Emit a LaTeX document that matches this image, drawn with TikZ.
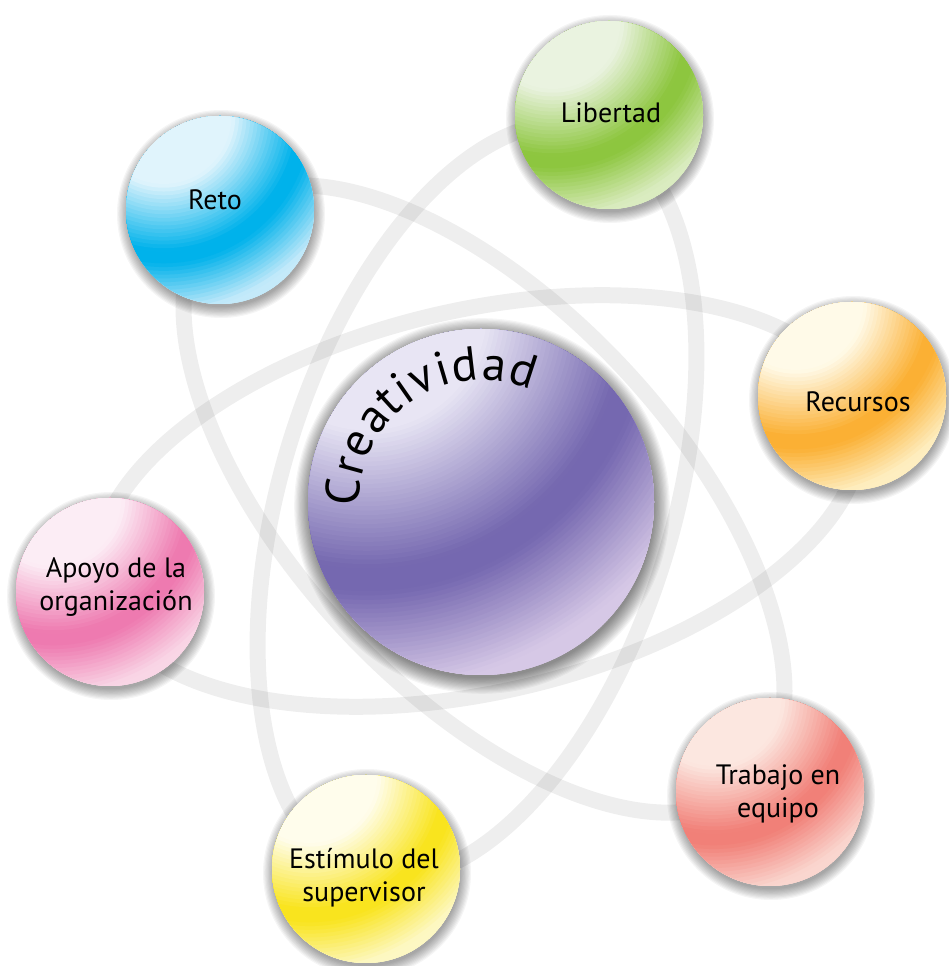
\documentclass[tikz,border=0pt]{standalone}
\usepackage{fontspec}
\setmainfont{PT Sans}
\usetikzlibrary{calc,decorations.text}

% ball palette: L = highlight, M = saturated band, R = rim
\definecolor{retoL}{RGB}{224,244,252}
\definecolor{retoM}{RGB}{0,178,235}
\definecolor{retoR}{RGB}{196,234,250}
\definecolor{libL}{RGB}{234,243,224}
\definecolor{libM}{RGB}{141,198,63}
\definecolor{libR}{RGB}{218,236,192}
\definecolor{recL}{RGB}{255,250,232}
\definecolor{recM}{RGB}{251,176,52}
\definecolor{recR}{RGB}{254,238,192}
\definecolor{apoL}{RGB}{252,237,245}
\definecolor{apoM}{RGB}{238,122,176}
\definecolor{apoR}{RGB}{249,214,230}
\definecolor{traL}{RGB}{252,231,224}
\definecolor{traM}{RGB}{241,128,120}
\definecolor{traR}{RGB}{250,214,207}
\definecolor{estL}{RGB}{255,253,236}
\definecolor{estM}{RGB}{249,228,30}
\definecolor{estR}{RGB}{253,248,195}
\definecolor{creL}{RGB}{232,229,244}
\definecolor{creM}{RGB}{117,104,176}
\definecolor{creR}{RGB}{214,200,230}

% glossy ball built from concentric rings around an off-centre point.
% #1 palette prefix, #2 x, #3 y, #4 radius, #5 number of rings
% geometry (in ball radii): \gox \goy centre of the rings,
% \gdL end of highlight, \gdMa/\gdMb saturated band, \gdR rim tint, \gmax outermost ring
\newcommand\paintball[5]{%
  \begin{scope}
    \clip (#2,#3) circle[radius=#4];
    \fill[#1R] (#2,#3) circle[radius=#4];
    \foreach \i in {#5,...,0}{%
      \pgfmathsetmacro\dd{\gmax*\i/#5}%
      \pgfmathsetmacro\pa{100*min(1,max(0,(\dd-\gdL)/(\gdMa-\gdL)))}%
      \pgfmathsetmacro\qa{100-100*min(1,max(0,(\dd-\gdMb)/(\gdR-\gdMb)))}%
      \colorlet{ringc}{#1M!\pa!#1L!\qa!#1R}%
      \fill[ringc] (#2+\gox*#4,#3+\goy*#4) circle[radius=\dd*#4];
    }
  \end{scope}}

\newcommand\smallgeometry{%
  \def\gox{-0.60}\def\goy{1.00}\def\gdL{0.75}\def\gdMa{1.45}%
  \def\gdMb{1.58}\def\gdR{2.10}\def\gmax{2.25}}
\newcommand\biggeometry{%
  \def\gox{-0.66}\def\goy{1.11}\def\gdL{0.70}\def\gdMa{1.50}%
  \def\gdMb{1.64}\def\gdR{2.20}\def\gmax{2.32}}

% soft shadow under a ball: x, y, radius, layers
\newcommand\ballshadow[4]{%
  \foreach \k in {1,...,#4}{%
    \fill[black, opacity=0.04] (#1+1,#2-4) circle[radius=#3-2+\k*1.2];}}

\begin{document}
\begin{tikzpicture}[x=1pt, y=1pt,
  orbit/.style={line width=16pt, draw=black, draw opacity=0.065},
  glass/.style={circle, inner sep=0pt, draw=none},
  caption/.style={font=\fontsize{28}{33}\selectfont, align=center,
    anchor=base, text=black, inner sep=0pt}]

\useasboundingbox (0,0) rectangle (948,966);
\fill[white] (0,0) rectangle (948,966);

% three orbits crossing behind the central ball
\draw[orbit, rotate around={13:(479,465)}] (479,465) ellipse[x radius=390, y radius=191];
\draw[orbit, rotate around={-47:(484,467)}] (484,467) ellipse[x radius=390, y radius=191];
\draw[orbit, rotate around={73:(477,465)}] (477,465) ellipse[x radius=390, y radius=196];

% shadows
\ballshadow{481}{464}{173}{14}
\ballshadow{220}{756}{94}{10}
\ballshadow{609}{851}{94}{10}
\ballshadow{852}{570}{94}{10}
\ballshadow{110}{374}{94}{10}
\ballshadow{770}{174}{94}{10}
\ballshadow{366}{97}{94}{10}

% ball outlines (named) and their glossy fills
\node[glass, minimum size=346pt] (creat) at (481,464) {};
\node[glass, minimum size=188pt] (reto) at (220,756) {};
\node[glass, minimum size=188pt] (libertad) at (609,851) {};
\node[glass, minimum size=188pt] (recursos) at (852,570) {};
\node[glass, minimum size=188pt] (apoyo) at (110,374) {};
\node[glass, minimum size=188pt] (trabajo) at (770,174) {};
\node[glass, minimum size=188pt] (estimulo) at (366,97) {};

\biggeometry
\paintball{cre}{481}{464}{173}{90}
\smallgeometry
\paintball{reto}{220}{756}{94}{56}
\paintball{lib}{609}{851}{94}{56}
\paintball{rec}{852}{570}{94}{56}
\paintball{apo}{110}{374}{94}{56}
\paintball{tra}{770}{174}{94}{56}
\paintball{est}{366}{97}{94}{56}

% captions (anchored on the last baseline)
\node[caption] (reto-t) at (215,756) {Reto};
\node[caption] (libertad-t) at (611,843) {Libertad};
\node[caption] (recursos-t) at (858,554) {Recursos};
\node[caption] (apoyo-t) at (116,355) {Apoyo de la\\organización};
\node[caption] (trabajo-t) at (778,148) {Trabajo en\\equipo};
\node[caption] (estimulo-t) at (364,64) {Estímulo del\\supervisor};

% curved title on the central ball
\coordinate (arcstart) at ($(creat.center)+(182:122)$);
\path[decorate, decoration={text along path, text align=fit to path,
    text={|\fontsize{48}{48}\selectfont|Creatividad}}]
  (arcstart) arc[start angle=182, end angle=66, radius=122];
\end{tikzpicture}
\end{document}
